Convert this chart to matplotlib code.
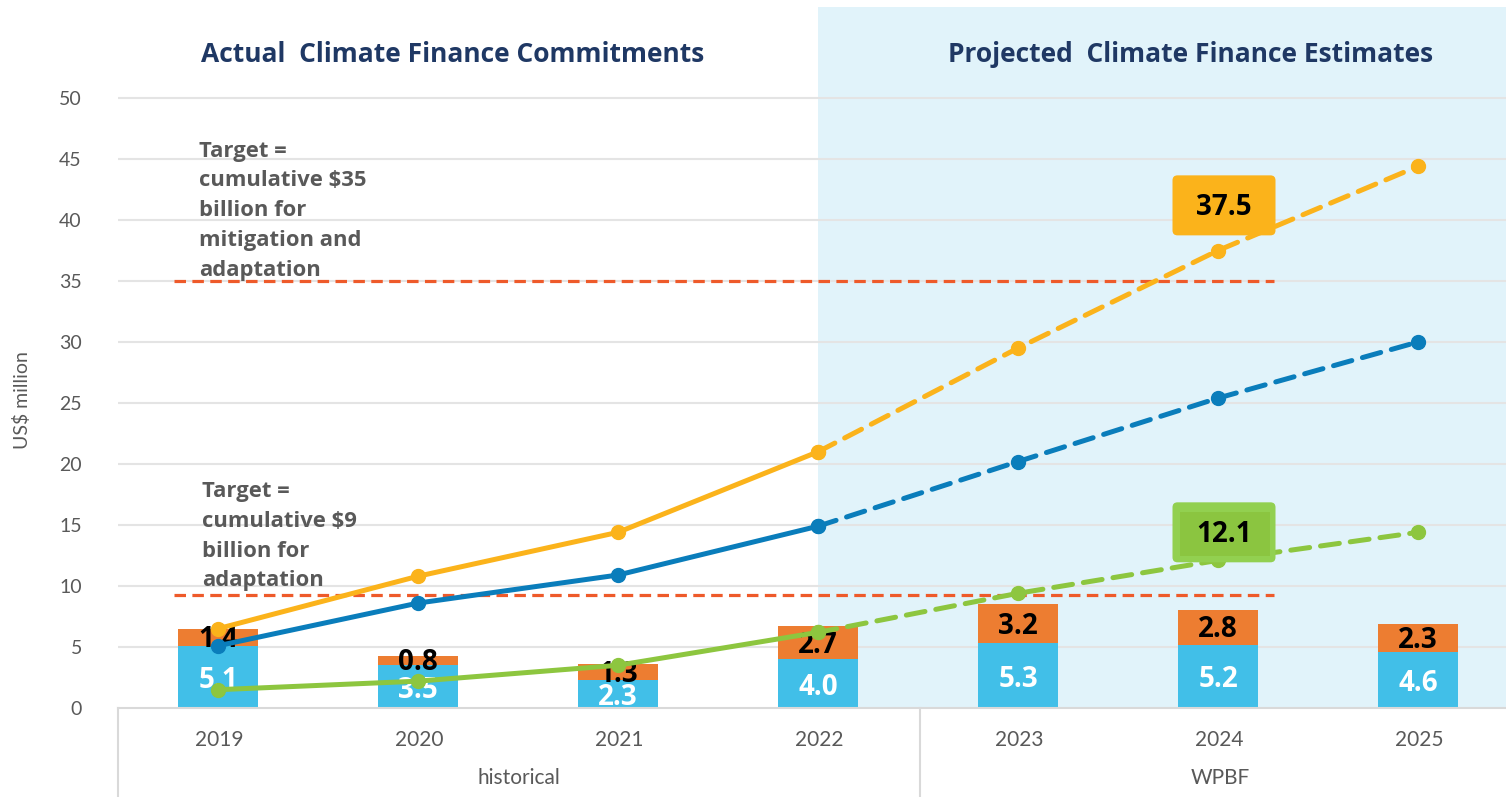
import matplotlib
matplotlib.use("Agg")
import matplotlib.pyplot as plt
from matplotlib.patches import FancyBboxPatch, Rectangle
import numpy as np

plt.rcParams['font.family'] = ['Lato', 'DejaVu Sans']
BOLD = ['Open Sans', 'DejaVu Sans']

# ---- data ----
years = ["2019", "2020", "2021", "2022", "2023", "2024", "2025"]
groups = ["historical", "WPBF"]
mitigation = [5.1, 3.5, 2.3, 4.0, 5.3, 5.2, 4.6]        # blue bars
adaptation = [1.4, 0.8, 1.3, 2.7, 3.2, 2.8, 2.3]        # orange bars
cum_total = [6.5, 10.8, 14.4, 21.0, 29.5, 37.5, 44.4]   # yellow line
cum_mitig = [5.1, 8.6, 10.9, 14.9, 20.2, 25.4, 30.0]    # blue line
cum_adapt = [1.5, 2.2, 3.5, 6.2, 9.4, 12.1, 14.4]       # green line
target_total = 35
target_adapt = 9.3
title_left = "Actual  Climate Finance Commitments"
title_right = "Projected  Climate Finance Estimates"
target_total_text = "Target =\ncumulative $35\nbillion for\nmitigation and\nadaptation"
target_adapt_text = "Target =\ncumulative $9\nbillion for\nadaptation"

# ---- style ----
W, H = 1506, 797
C_BAR_BLUE = '#41BFE8'
C_BAR_ORANGE = '#ED7D31'
C_YELLOW = '#FBB31B'
C_BLUE = '#0A7DBB'
C_GREEN = '#8DC63F'
C_TARGET = '#EE5A2A'
C_SHADE = '#E1F3FA'
C_GRID = '#E4E4E4'
C_TEXT = '#595959'
C_TITLE = '#1F3864'

fig = plt.figure(figsize=(W / 100, H / 100), dpi=100)
ax = fig.add_axes([118 / W, 1 - 708 / H, 1400 / W, 701 / H])
x = np.arange(len(years))
ax.set_xlim(-0.5, 6.5)
ax.set_ylim(0, 701 / 12.2)

# shading for projected region
ax.axvspan(3.0, 6.5, color=C_SHADE, zorder=0, lw=0)

# grid
for v in range(5, 55, 5):
    ax.axhline(v, color=C_GRID, lw=1.5, zorder=0.5)

ax.set_yticks(range(0, 55, 5))
ax.set_yticklabels([str(v) for v in range(0, 55, 5)], fontsize=14, color=C_TEXT)
ax.tick_params(axis='y', length=0, pad=26)
ax.set_xticks([])
for s in ['top', 'right', 'left']:
    ax.spines[s].set_visible(False)
ax.spines['bottom'].set_color('#D9D9D9')
ax.spines['bottom'].set_linewidth(1.5)
ax.spines['bottom'].set_zorder(5)
fig.text(22 / W, 1 - 400 / H, "US$ million", rotation=90, ha='center', va='center',
         fontsize=14, color=C_TEXT)

# bars
bw = 0.4
ax.bar(x, mitigation, width=bw, color=C_BAR_BLUE, zorder=2, lw=0)
ax.bar(x, adaptation, width=bw, bottom=mitigation, color=C_BAR_ORANGE, zorder=2, lw=0)
for i in range(len(years)):
    ax.text(x[i], mitigation[i] / 2 - 0.3, f"{mitigation[i]:.1f}", ha='center', va='center',
            fontsize=20, fontweight='bold', family=BOLD, color='white', zorder=3)
    ax.text(x[i], mitigation[i] + adaptation[i] / 2 - 0.2, f"{adaptation[i]:.1f}", ha='center',
            va='center', fontsize=20, fontweight='bold', family=BOLD, color='black', zorder=3)

# target lines
ax.plot([-0.22, 5.28], [target_total] * 2, color=C_TARGET, lw=2.3,
        ls=(0, (3.6, 2.0)), zorder=4)
ax.plot([-0.22, 5.28], [target_adapt] * 2, color=C_TARGET, lw=2.3,
        ls=(0, (3.6, 2.0)), zorder=4)

# target texts
ax.text(-0.095, 46.5, target_total_text, ha='left', va='top', fontsize=15.8,
        fontweight='bold', family=BOLD, color=C_TEXT, linespacing=1.55, zorder=1)
ax.text(-0.08, 18.6, target_adapt_text, ha='left', va='top', fontsize=15.8,
        fontweight='bold', family=BOLD, color=C_TEXT, linespacing=1.55, zorder=1)

# cumulative lines
for vals, col in [(cum_total, C_YELLOW), (cum_mitig, C_BLUE), (cum_adapt, C_GREEN)]:
    ax.plot(x[:4], vals[:4], color=col, lw=3.6, marker='o', ms=10,
            solid_capstyle='round', zorder=6)
    ax.plot(x[3:], vals[3:], color=col, lw=3.6, marker='o', ms=10,
            ls=(0, (3.8, 2.2)), dash_capstyle='round', zorder=6)

# callouts
def callout(cx, cy, txt, fc, inner=None):
    w, h = 0.515, 60 / 12.2
    box = FancyBboxPatch((cx - w / 2, cy - h / 2), w, h,
                         boxstyle='round,pad=0,rounding_size=0.025',
                         mutation_aspect=200 / 12.2, fc=fc, ec='none', zorder=8)
    ax.add_patch(box)
    if inner is not None:
        iw, ih = 0.45, 44 / 12.2
        ax.add_patch(Rectangle((cx - iw / 2 + 0.005, cy - ih / 2 - 0.1), iw, ih,
                               fc=inner, ec='none', zorder=8.5))
    ax.text(cx, cy - 0.2, txt, ha='center', va='center', fontsize=20, fontweight='bold',
            family=BOLD, color='black', zorder=9)

callout(5.03, 41.2, f"{cum_total[5]:.1f}", C_YELLOW)
callout(5.03, 14.4, f"{cum_adapt[5]:.1f}", '#92D050', inner='#8BC540')

# titles
fig.text(453 / W, 1 - 55 / H, title_left, ha='center', va='center', fontsize=19,
         fontweight='bold', family=BOLD, color=C_TITLE)
fig.text(1191 / W, 1 - 55 / H, title_right, ha='center', va='center', fontsize=19,
         fontweight='bold', family=BOLD, color=C_TITLE)

# category axis below
for i, yr in enumerate(years):
    px = 219 + 200 * i
    fig.text(px / W, 1 - 740 / H, yr, ha='center', va='center', fontsize=15, color=C_TEXT)
fig.text(519 / W, 1 - 778 / H, groups[0], ha='center', va='center', fontsize=15, color=C_TEXT)
fig.text(1220 / W, 1 - 778 / H, groups[1], ha='center', va='center', fontsize=15, color=C_TEXT)
for px in [118, 920]:
    fig.add_artist(plt.Line2D([px / W, px / W], [1 - 708 / H, 0], color='#D9D9D9', lw=1.5))

fig.savefig("out.png", dpi=100)
